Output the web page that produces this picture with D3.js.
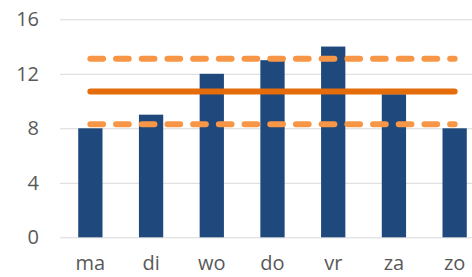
<!DOCTYPE html>
<html>
<head>
<meta charset="utf-8">
<script src="https://cdn.jsdelivr.net/npm/d3@7"></script>
<style>
  html, body { margin: 0; padding: 0; background: #fff; }
  svg { display: block; }
  .tick text { font-family: "Open Sans", sans-serif; font-size: 20px; fill: #595959; }
</style>
</head>
<body>
<div class="chart-container"></div>
<script>
/* Data
   ========================================================================== */
var days = ["ma", "di", "wo", "do", "vr", "za", "zo"];
var values = [8, 9, 12, 13, 14, 10.5, 8];
var yTicks = [0, 4, 8, 12, 16];
// reference lines
var meanValue = 10.7;
var bandValues = [8.3, 13.1];

/* Chart
   ========================================================================== */
var W = 472, H = 277;
var margin = { top: 19.3, right: -13, bottom: 39.7, left: 60 },
    width = W - margin.left - margin.right,
    height = H - margin.top - margin.bottom;

var x = d3.scaleBand()
    .domain(days)
    .range([0, width])
    .paddingInner(0.6)
    .paddingOuter(0.3);
var y = d3.scaleLinear()
    .domain([0, 16])
    .range([height, 0]);

var svg = d3.select('.chart-container').append("svg")
    .attr("width", W)
    .attr("height", H)
    .append("g")
    .attr("transform", "translate(" + margin.left + "," + margin.top + ")");

// gridlines + y labels
var yAxis = svg.append("g")
    .attr("class", "y-axis")
    .call(d3.axisLeft(y).tickValues(yTicks).tickSize(-width).tickPadding(21));
yAxis.select(".domain").remove();
yAxis.selectAll(".tick line").attr("stroke", "#d9d9d9").attr("stroke-width", 1);

// bars
svg.selectAll(".bar")
    .data(values)
    .enter().append("rect")
    .attr("class", "bar")
    .attr("x", function(d, i) { return x(days[i]); })
    .attr("width", x.bandwidth())
    .attr("y", function(d) { return y(d); })
    .attr("height", function(d) { return height - y(d); })
    .attr("fill", "#1F497D");

// x labels (baseline just above the bottom edge)
var xAxis = svg.append("g")
    .attr("class", "x-axis")
    .attr("transform", "translate(0," + height + ")")
    .call(d3.axisBottom(x).tickSize(0).tickPadding(0));
xAxis.select(".domain").remove();
xAxis.selectAll("text").attr("dy", null).attr("y", 33);

// reference lines, from first to last category centre
var x0 = x(days[0]) + x.bandwidth() / 2,
    x1 = x(days[days.length - 1]) + x.bandwidth() / 2;

svg.selectAll(".band-line")
    .data(bandValues)
    .enter().append("line")
    .attr("class", "band-line")
    .attr("x1", x0).attr("x2", x1)
    .attr("y1", function(d) { return y(d); })
    .attr("y2", function(d) { return y(d); })
    .attr("stroke", "#F79646")
    .attr("stroke-width", 6)
    .attr("stroke-linecap", "round")
    .attr("stroke-dasharray", "12.7,13");

svg.append("line")
    .attr("class", "mean-line")
    .attr("x1", x0).attr("x2", x1)
    .attr("y1", y(meanValue)).attr("y2", y(meanValue))
    .attr("stroke", "#E46C0A")
    .attr("stroke-width", 6)
    .attr("stroke-linecap", "round");
</script>
</body>
</html>
